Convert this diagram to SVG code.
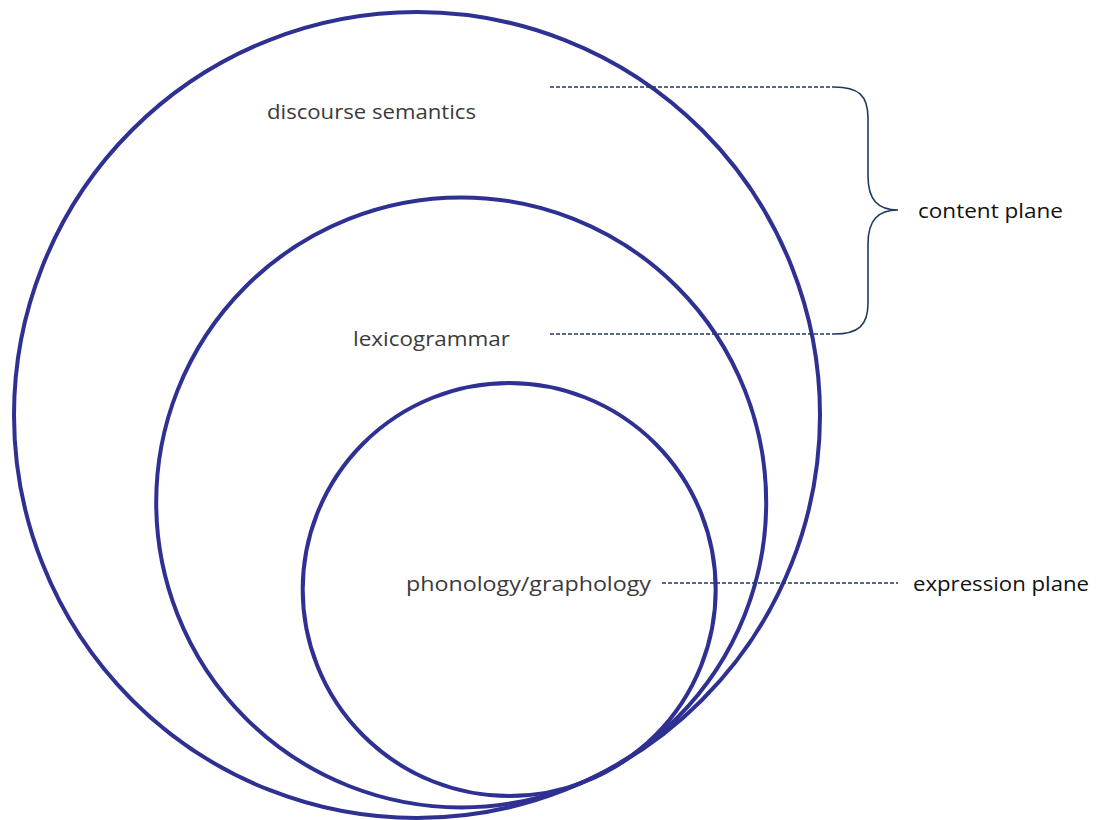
<svg xmlns="http://www.w3.org/2000/svg" width="1096" height="820" viewBox="0 0 1096 820">
  <style>
    .ring { fill: none; stroke: #2e3192; stroke-width: 4; }
    .lbl { font-family: "Open Sans", "Liberation Sans", sans-serif; font-size: 20px; fill: #3a3a3c; }
    .side { font-family: "Open Sans", "Liberation Sans", sans-serif; font-size: 20px; fill: #111; }
    .dash { fill: none; stroke: #1f3a60; stroke-width: 1.6; stroke-dasharray: 4 2; }
    .brace { fill: none; stroke: #1f3a60; stroke-width: 1.6; }
  </style>
  <rect width="1096" height="820" fill="#ffffff"/>
  <g id="discourse-semantics">
    <circle class="ring" cx="417" cy="415" r="403"/>
    <text class="lbl" x="267" y="119" textLength="209" lengthAdjust="spacingAndGlyphs">discourse semantics</text>
  </g>
  <g id="lexicogrammar">
    <circle class="ring" cx="461.2" cy="502.4" r="305"/>
    <text class="lbl" x="353" y="346" textLength="157" lengthAdjust="spacingAndGlyphs">lexicogrammar</text>
  </g>
  <g id="phonology-graphology">
    <circle class="ring" cx="509.2" cy="589.5" r="206.5"/>
    <text class="lbl" x="406" y="591" textLength="245" lengthAdjust="spacingAndGlyphs">phonology/graphology</text>
  </g>
  <g id="content-plane">
    <text class="side" x="918" y="218" textLength="145" lengthAdjust="spacingAndGlyphs">content plane</text>
  </g>
  <g id="expression-plane">
    <text class="side" x="913" y="591" textLength="176" lengthAdjust="spacingAndGlyphs">expression plane</text>
  </g>
  <g id="connectors">
    <line class="dash" x1="550" y1="87" x2="834" y2="87"/>
    <line class="dash" x1="550" y1="334" x2="834" y2="334"/>
    <path class="brace" d="M834 87 C858 87 868 95 868 118 L868 176 C868 200 878 210 898 210 C878 210 868 220 868 244 L868 303 C868 326 858 334 834 334"/>
    <line class="dash" x1="662" y1="583" x2="898" y2="583"/>
  </g>
</svg>
